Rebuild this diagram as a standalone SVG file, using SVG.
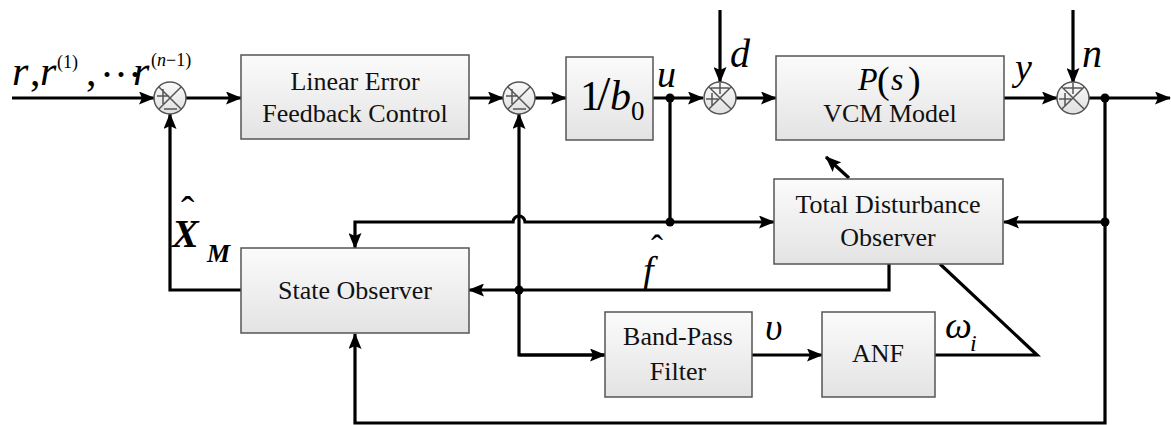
<svg xmlns="http://www.w3.org/2000/svg" width="1171" height="425" viewBox="0 0 1171 425">
<style>
.box{stroke:#555;stroke-width:1.5;fill:url(#gb)}
.w{fill:none;stroke:#000;stroke-width:3.2}
.a{fill:none;stroke:#000;stroke-width:3.2;marker-end:url(#ah)}
.ss{fill:none;stroke:#555;stroke-width:1.5}
.dot{fill:#000}
</style>
<defs>
<linearGradient id="gb" x1="0" y1="0" x2="0" y2="1">
<stop offset="0" stop-color="#fbfbfb"/><stop offset="1" stop-color="#e3e3e3"/>
</linearGradient>
<linearGradient id="gc" x1="0" y1="0" x2="0" y2="1">
<stop offset="0" stop-color="#fafafa"/><stop offset="1" stop-color="#e0e0e0"/>
</linearGradient>
<marker id="ah" markerUnits="userSpaceOnUse" markerWidth="16" markerHeight="13" refX="15" refY="6.5" orient="auto">
<path d="M0,0 L16,6.5 L0,13 L3,6.5 z" fill="#000"/>
</marker>
<g id="sumPM">
<circle r="16" fill="url(#gc)" stroke="#555" stroke-width="1.5"/>
<path class="ss" d="M-11.3,-11.3 L11.3,11.3 M11.3,-11.3 L-11.3,11.3 M-13,-2 H-1 M-7,-9 V6 M-6,11 H7"/>
</g>
<g id="sumPP">
<circle r="16" fill="url(#gc)" stroke="#555" stroke-width="1.5"/>
<path class="ss" d="M-11.3,-11.3 L11.3,11.3 M11.3,-11.3 L-11.3,11.3 M-9,-10 H9 M0,-15 V-4 M-14,1 H-2 M-8,-5 V8"/>
</g>
</defs>
<rect width="1171" height="425" fill="#fff"/>

<g id="connectors">
<path class="a" d="M12,98 H154"/>
<path class="a" d="M186,98 H241"/>
<path class="a" d="M469,98 H503"/>
<path class="a" d="M535,98 H566"/>
<path class="a" d="M653,98 H703"/>
<path class="a" d="M720,10 V82"/>
<path class="a" d="M736,98 H776"/>
<path class="a" d="M1004,98 H1057"/>
<path class="a" d="M1073,10 V83"/>
<path class="a" d="M1089,98 H1170"/>
<path class="w" d="M670,98 V222"/>
<path class="a" d="M1105,222 H1004"/>
<path class="a" d="M670,222 H774"/>
<path class="a" d="M670,222 H525 A6,6 0 0 0 513,222 H355 V248"/>
<path class="a" d="M849,178 L826,157"/>
<path class="a" d="M889,264 V290 H469"/>
<path class="a" d="M241,290 H170 V114"/>
<path class="a" d="M605,355 H519 V114"/>
<path class="a" d="M519,355 H605"/>
<path class="a" d="M752,355 H822"/>
<path class="w" d="M935,355 H1037 L940,264"/>
<path class="a" d="M1105,98 V423 H355 V334"/>
<circle class="dot" cx="670" cy="98" r="4.5"/>
<circle class="dot" cx="1105" cy="98" r="4.5"/>
<circle class="dot" cx="670" cy="222" r="4.5"/>
<circle class="dot" cx="1105" cy="222" r="4.5"/>
<circle class="dot" cx="519" cy="290" r="4.5"/>
</g>

<g id="sum1"><use href="#sumPM" x="170" y="98"/></g>
<g id="sum2"><use href="#sumPM" x="519" y="98"/></g>
<g id="sum3"><use href="#sumPP" x="720" y="98"/></g>
<g id="sum4"><use href="#sumPP" x="1073" y="98"/></g>

<g id="lefc">
<rect class="box" x="241" y="55" width="228" height="84"/>
<text font-family="Times New Roman, Liberation Serif, serif" font-size="26" text-anchor="middle" fill="#111" x="355" y="90">Linear Error</text>
<text font-family="Times New Roman, Liberation Serif, serif" font-size="26" text-anchor="middle" fill="#111" x="355" y="122">Feedback Control</text>
</g>
<g id="gain">
<rect class="box" x="566" y="57" width="87" height="83"/>
<text font-family="Times New Roman, Liberation Serif, serif" font-size="42" x="580" y="110">1</text>
<text font-family="Times New Roman, Liberation Serif, serif" font-size="48" x="597" y="110">/</text>
<text font-family="Times New Roman, Liberation Serif, serif" font-size="42" font-style="italic" x="610" y="110">b</text>
<text font-family="Times New Roman, Liberation Serif, serif" font-size="27" x="631" y="120">0</text>
</g>
<g id="vcm">
<rect class="box" x="776" y="56" width="228" height="84"/>
<text font-family="Times New Roman, Liberation Serif, serif" font-size="32" font-style="italic" x="858" y="90">P</text>
<text font-family="Times New Roman, Liberation Serif, serif" font-size="38" x="877" y="93">(</text>
<text font-family="Times New Roman, Liberation Serif, serif" font-size="32" font-style="italic" x="891" y="90">s</text>
<text font-family="Times New Roman, Liberation Serif, serif" font-size="38" x="908" y="93">)</text>
<text font-family="Times New Roman, Liberation Serif, serif" font-size="26" text-anchor="middle" fill="#111" x="890" y="122">VCM Model</text>
</g>
<g id="tdo">
<rect class="box" x="774" y="179" width="229" height="85"/>
<text font-family="Times New Roman, Liberation Serif, serif" font-size="26" text-anchor="middle" fill="#111" x="888" y="213">Total Disturbance</text>
<text font-family="Times New Roman, Liberation Serif, serif" font-size="26" text-anchor="middle" fill="#111" x="888" y="246">Observer</text>
</g>
<g id="so">
<rect class="box" x="241" y="248" width="228" height="85"/>
<text font-family="Times New Roman, Liberation Serif, serif" font-size="26" text-anchor="middle" fill="#111" x="355" y="299">State Observer</text>
</g>
<g id="bpf">
<rect class="box" x="605" y="312" width="147" height="85"/>
<text font-family="Times New Roman, Liberation Serif, serif" font-size="26" text-anchor="middle" fill="#111" x="678" y="345">Band-Pass</text>
<text font-family="Times New Roman, Liberation Serif, serif" font-size="26" text-anchor="middle" fill="#111" x="678" y="380">Filter</text>
</g>
<g id="anf">
<rect class="box" x="822" y="312" width="113" height="85"/>
<text font-family="Times New Roman, Liberation Serif, serif" font-size="26" text-anchor="middle" fill="#111" x="878" y="362">ANF</text>
</g>

<g id="labels">
<text font-family="Times New Roman, Liberation Serif, serif" font-size="42" font-style="italic" x="12" y="85">r</text>
<text font-family="Times New Roman, Liberation Serif, serif" font-size="42" x="30" y="85">,</text>
<text font-family="Times New Roman, Liberation Serif, serif" font-size="42" font-style="italic" x="40" y="85">r</text>
<text font-family="Times New Roman, Liberation Serif, serif" font-size="18" x="57" y="68">(1)</text>
<text font-family="Times New Roman, Liberation Serif, serif" font-size="42" x="86" y="85">,</text>
<text font-family="Times New Roman, Liberation Serif, serif" font-size="42" x="100" y="89">···</text>
<text font-family="Times New Roman, Liberation Serif, serif" font-size="42" font-style="italic" x="133" y="85">r</text>
<text font-family="Times New Roman, Liberation Serif, serif" font-size="18" x="151" y="66">(<tspan font-style="italic">n</tspan>−1)</text>
<text font-family="Times New Roman, Liberation Serif, serif" font-size="38" font-style="italic" x="657" y="87">u</text>
<text font-family="Times New Roman, Liberation Serif, serif" font-size="40" font-style="italic" x="730" y="67">d</text>
<text font-family="Times New Roman, Liberation Serif, serif" font-size="38" font-style="italic" x="1015" y="80">y</text>
<text font-family="Times New Roman, Liberation Serif, serif" font-size="40" font-style="italic" x="1082" y="67">n</text>
<text font-family="Times New Roman, Liberation Serif, serif" font-size="40" font-style="italic" font-weight="bold" x="172" y="247">X</text>
<text font-family="Times New Roman, Liberation Serif, serif" font-size="40" x="181" y="224">ˆ</text>
<text font-family="Times New Roman, Liberation Serif, serif" font-size="26" font-style="italic" font-weight="bold" x="207" y="262">M</text>
<text font-family="Times New Roman, Liberation Serif, serif" font-size="38" font-style="italic" x="643" y="283">f</text>
<text font-family="Times New Roman, Liberation Serif, serif" font-size="36" x="651" y="260">ˆ</text>
<text font-family="Times New Roman, Liberation Serif, serif" font-size="38" font-style="italic" x="765" y="340">υ</text>
<text font-family="Times New Roman, Liberation Serif, serif" font-size="38" font-style="italic" x="945" y="338">ω</text>
<text font-family="Times New Roman, Liberation Serif, serif" font-size="24" font-style="italic" x="970" y="351">i</text>
</g>
</svg>
